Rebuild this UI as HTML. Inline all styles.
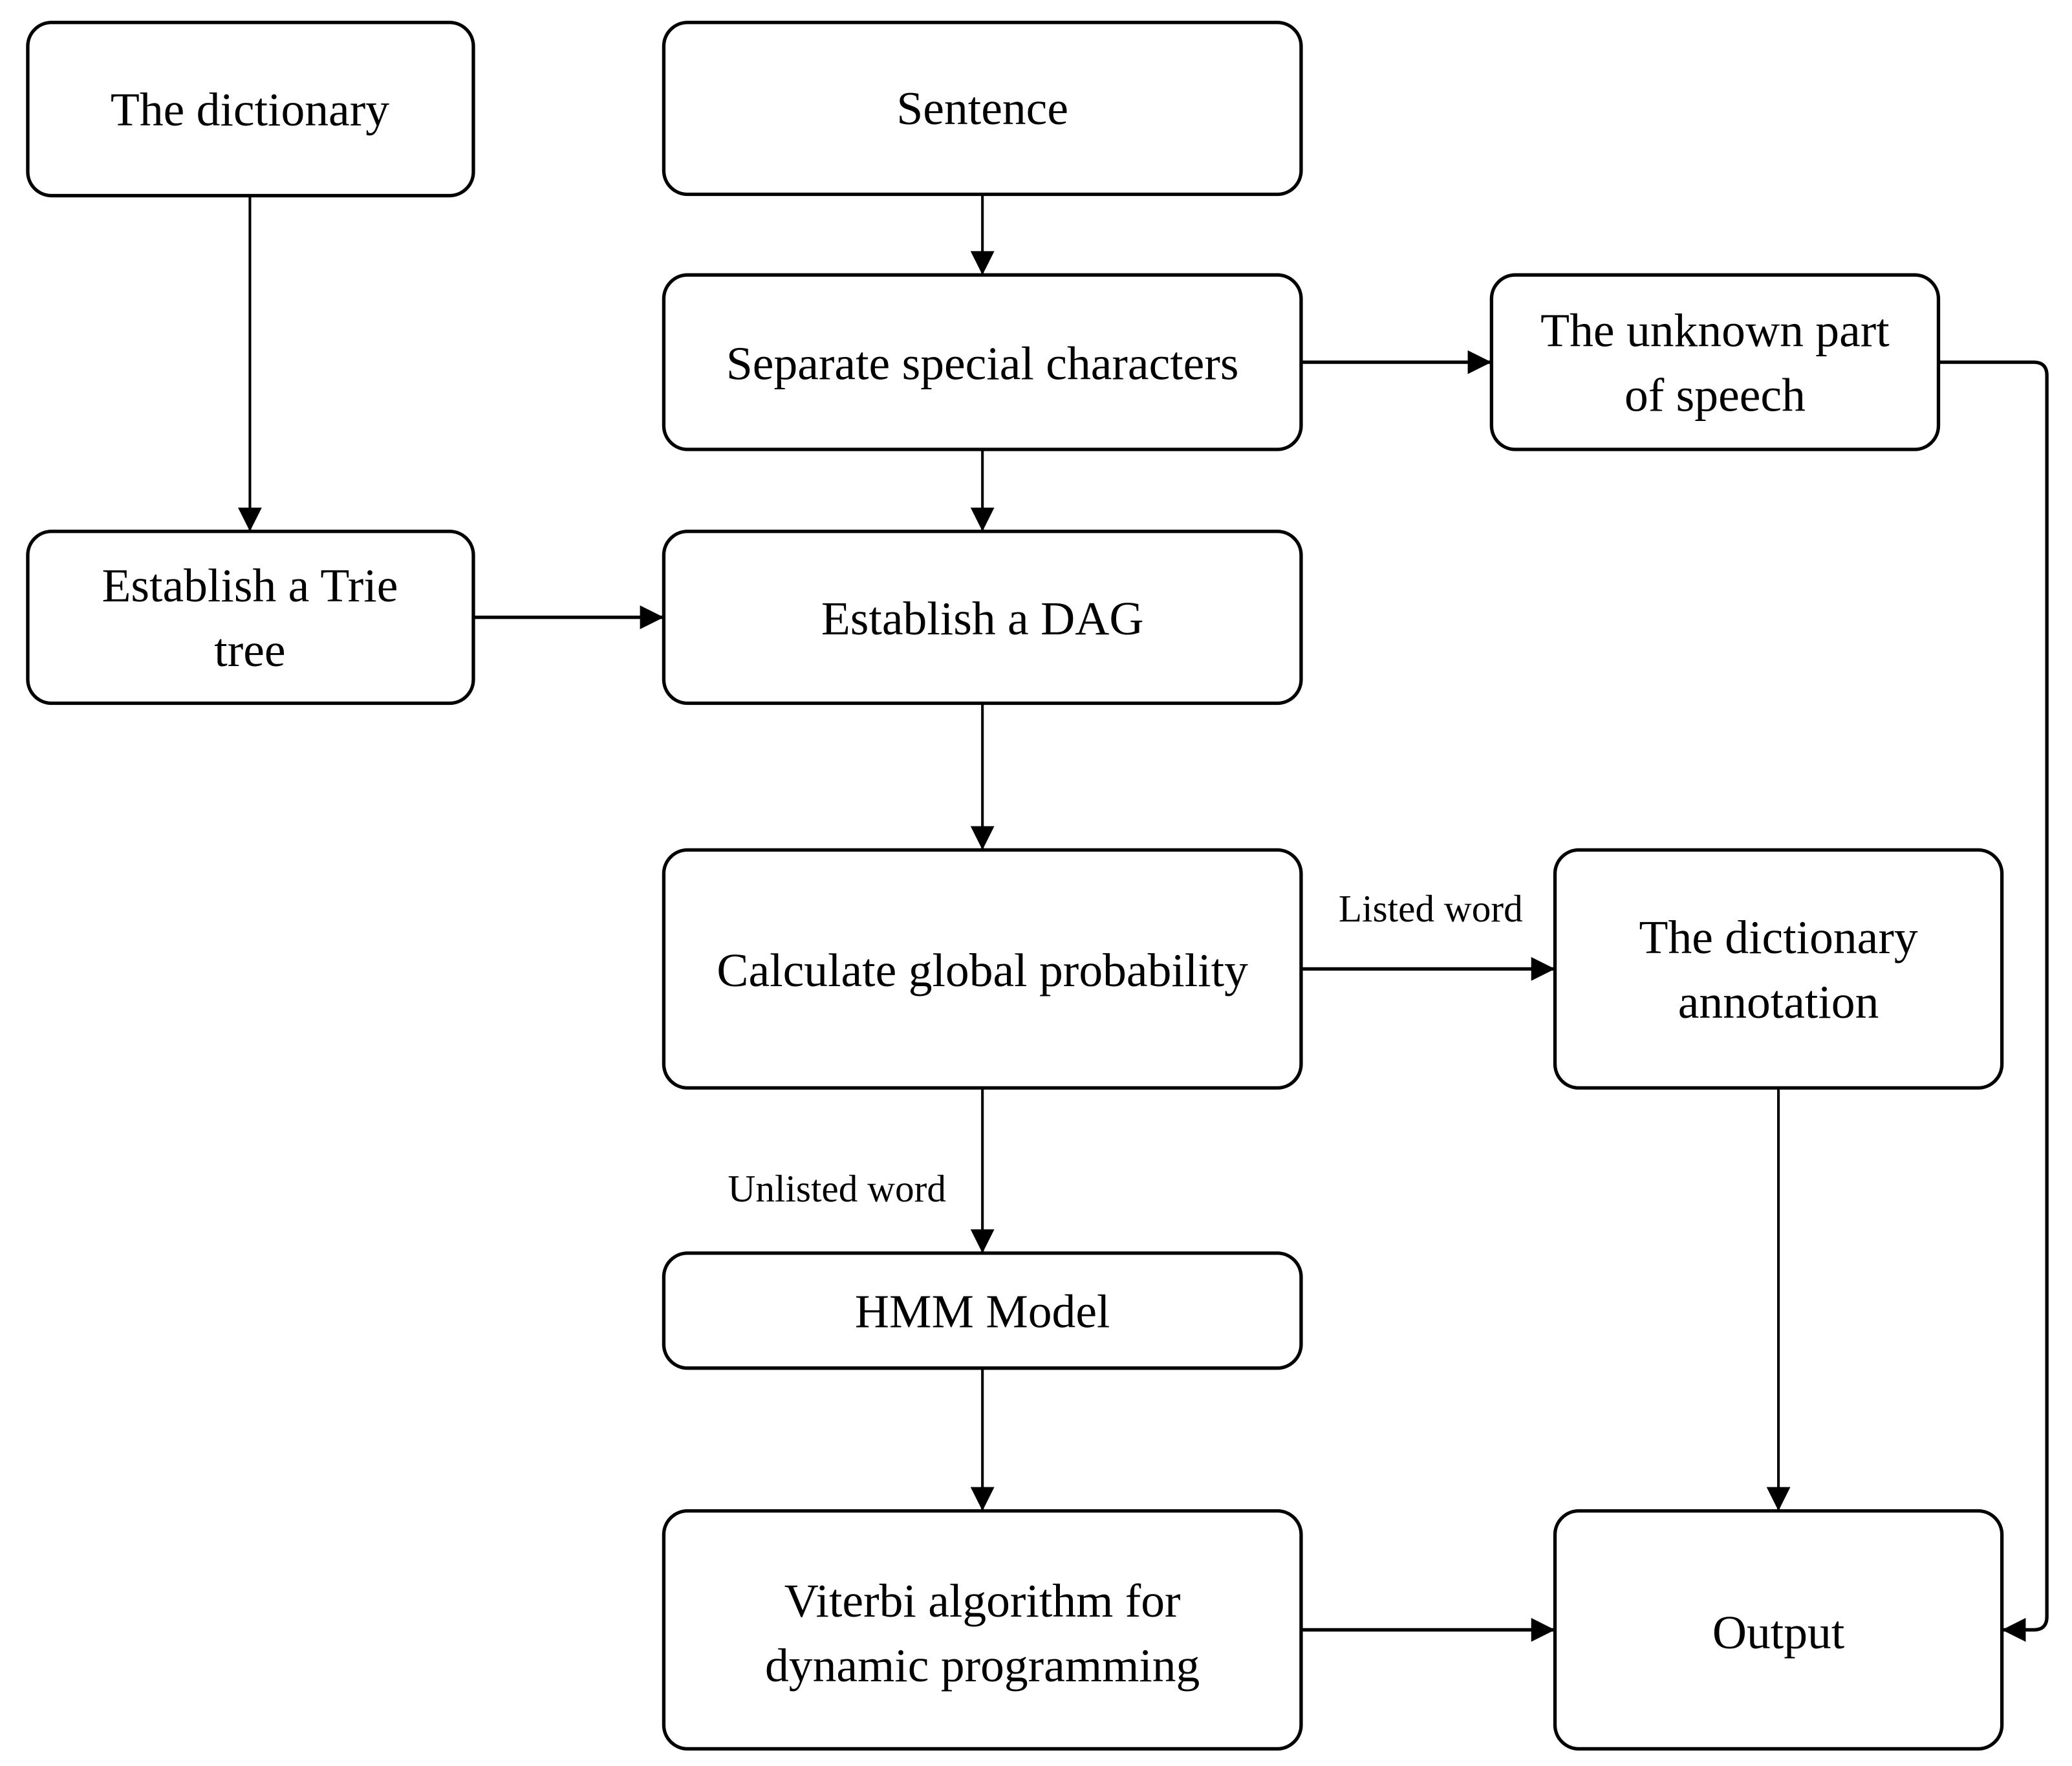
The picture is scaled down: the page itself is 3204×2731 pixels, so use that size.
<!DOCTYPE html>
<html><head><meta charset="utf-8"><style>html,body{margin:0;padding:0;background:#fff}svg{display:block}</style></head>
<body>
<svg width="3204" height="2731" viewBox="0 0 1567 1336" preserveAspectRatio="none" xmlns="http://www.w3.org/2000/svg">
<defs><marker id="a" markerWidth="10" markerHeight="10" refX="9" refY="5" orient="auto" markerUnits="userSpaceOnUse"><path d="M0,0 L10,5 L0,10 Z" fill="#000"/></marker>
<marker id="b" viewBox="0 0 10 10" markerWidth="20" markerHeight="18" refX="10" refY="5" orient="auto" markerUnits="userSpaceOnUse"><path d="M0,0 L10,5 L0,10 Z" fill="#000"/></marker></defs>
<g fill="none" stroke="#000" stroke-width="2.6">
<rect x="21" y="17" width="337" height="131" rx="18"/>
<rect x="502" y="17" width="482" height="130" rx="18"/>
<rect x="502" y="208" width="482" height="132" rx="18"/>
<rect x="1128" y="208" width="338" height="132" rx="18"/>
<rect x="21" y="402" width="337" height="130" rx="18"/>
<rect x="502" y="402" width="482" height="130" rx="18"/>
<rect x="502" y="643" width="482" height="180" rx="18"/>
<rect x="1176" y="643" width="338" height="180" rx="18"/>
<rect x="502" y="948" width="482" height="87" rx="18"/>
<rect x="502" y="1143" width="482" height="180" rx="18"/>
<rect x="1176" y="1143" width="338" height="180" rx="18"/>
</g>
<g fill="none" stroke="#000" stroke-width="2">
<line x1="189" y1="148" x2="189" y2="402" marker-end="url(#b)"/>
<line x1="743" y1="147" x2="743" y2="208" marker-end="url(#b)"/>
<line x1="743" y1="340" x2="743" y2="402" marker-end="url(#b)"/>
<line x1="743" y1="532" x2="743" y2="643" marker-end="url(#b)"/>
<line x1="743" y1="823" x2="743" y2="948" marker-end="url(#b)"/>
<line x1="743" y1="1035" x2="743" y2="1143" marker-end="url(#b)"/>
<line x1="1345" y1="823" x2="1345" y2="1143" marker-end="url(#b)"/>
</g>
<g fill="none" stroke="#000" stroke-width="2.6">
<line x1="358" y1="467" x2="502" y2="467" marker-end="url(#b)"/>
<line x1="984" y1="274" x2="1128" y2="274" marker-end="url(#b)"/>
<line x1="984" y1="733" x2="1176" y2="733" marker-end="url(#b)"/>
<line x1="984" y1="1233" x2="1176" y2="1233" marker-end="url(#b)"/>
<path d="M1466,274 H1538 Q1548,274 1548,284 V1223 Q1548,1233 1538,1233 H1514" marker-end="url(#b)"/>
</g>
<g font-family="Liberation Serif, serif" font-size="36" text-anchor="middle" fill="#000">
<text x="189" y="95">The dictionary</text>
<text x="743" y="94">Sentence</text>
<text x="743" y="287">Separate special characters</text>
<text x="1297" y="262">The unknown part</text>
<text x="1297" y="311">of speech</text>
<text x="189" y="455">Establish a Trie</text>
<text x="189" y="504">tree</text>
<text x="743" y="480">Establish a DAG</text>
<text x="743" y="746">Calculate global probability</text>
<text x="1345" y="721">The dictionary</text>
<text x="1345" y="770">annotation</text>
<text x="743" y="1004">HMM Model</text>
<text x="743" y="1223">Viterbi algorithm for</text>
<text x="743" y="1272">dynamic programming</text>
<text x="1345" y="1247">Output</text>
</g>
<g font-family="Liberation Serif, serif" font-size="29" text-anchor="middle" fill="#000">
<text x="1082" y="697">Listed word</text>
<text x="633" y="909">Unlisted word</text>
</g>
</svg>
</body></html>
